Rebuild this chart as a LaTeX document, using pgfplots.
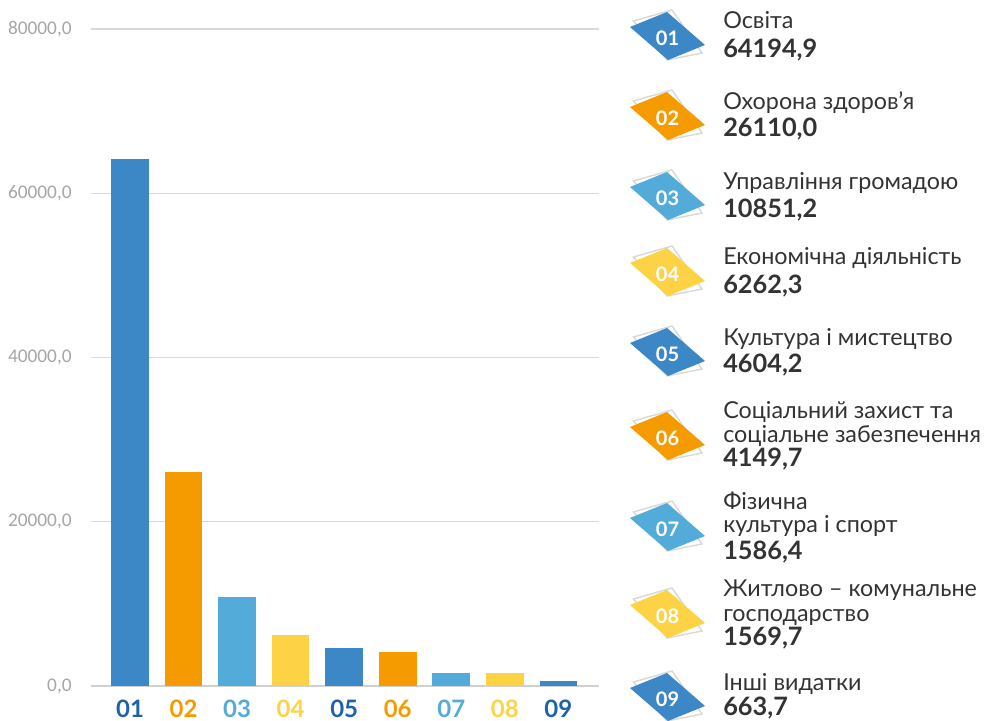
\documentclass[border=0pt]{standalone}
\usepackage{pgfplots}
\pgfplotsset{compat=1.18}
\usepackage{fontspec}
\setmainfont{Lato}
\newfontfamily\tickfont{Carlito}
\definecolor{cblue}{HTML}{3C87C6}
\definecolor{corange}{HTML}{F59B00}
\definecolor{clight}{HTML}{52ABD9}
\definecolor{cyellow}{HTML}{FDD245}
\definecolor{dblue}{HTML}{1F62AA}
\definecolor{tgray}{HTML}{A6A6A6}
\definecolor{ggray}{HTML}{D9D9D9}
\definecolor{bgray}{HTML}{D0D0D0}
\definecolor{txt}{HTML}{333333}
\newcommand\icon[3]{%
  \begin{scope}[shift={(667.5,721-#1)}]
    \draw[ggray, line width=1.1pt] (-34,15) -- (4.5,26) -- (34.5,-17) -- (-0.5,-24) -- cycle;
    \fill[#2] (-37.5,9) -- (-0.5,24) -- (37.5,-9) -- (0.5,-24) -- cycle;
    \node[white, font=\bfseries\fontsize{15}{15}\selectfont] at (0,-2) {#3};
  \end{scope}}
\newcommand\nm[2]{\node[anchor=base west, inner sep=0pt, text=txt, font=\fontsize{17.5}{17.5}\selectfont] at (723,721-#1) {#2};}
\newcommand\vl[2]{\node[anchor=base west, inner sep=0pt, text=txt, font=\bfseries\fontsize{19}{19}\selectfont] at (723,721-#1) {#2};}
\begin{document}
\begin{tikzpicture}[x=0.75pt,y=0.75pt]
\useasboundingbox (0,0) rectangle (986,721);
\begin{axis}[
  at={(68.25pt,26.25pt)}, anchor=south west,
  scale only axis, width=381pt, height=492.75pt,
  xmin=-0.73, xmax=8.76, ymin=0, ymax=80000,
  scaled y ticks=false,
  axis line style={draw=none}, tick style={draw=none},
  xtick={0,...,8},
  xticklabels={\textcolor{dblue}{01},\textcolor{corange}{02},\textcolor{clight}{03},\textcolor{cyellow}{04},\textcolor{dblue}{05},\textcolor{corange}{06},\textcolor{clight}{07},\textcolor{cyellow}{08},\textcolor{dblue}{09}},
  xticklabel style={font=\bfseries\fontsize{18}{18}\selectfont, yshift=-7pt},
  ytick={0,20000,40000,60000,80000},
  yticklabels={{0,0},{20000,0},{40000,0},{60000,0},{80000,0}},
  extra y ticks={0}, extra y tick labels={},
  extra y tick style={grid style={bgray, line width=2pt}},
  yticklabel style={font=\tickfont\fontsize{14.5}{14.5}\selectfont, text=tgray, xshift=-11pt},
  ymajorgrids, grid style={ggray, line width=1.1pt},
  clip=false,
]
\addplot[ybar, bar width=28.2pt, bar shift=0pt, fill=cblue, draw=none] coordinates {(0,64194.9)};
\addplot[ybar, bar width=28.2pt, bar shift=0pt, fill=corange, draw=none] coordinates {(1,26110.0)};
\addplot[ybar, bar width=28.2pt, bar shift=0pt, fill=clight, draw=none] coordinates {(2,10851.2)};
\addplot[ybar, bar width=28.2pt, bar shift=0pt, fill=cyellow, draw=none] coordinates {(3,6262.3)};
\addplot[ybar, bar width=28.2pt, bar shift=0pt, fill=cblue, draw=none] coordinates {(4,4604.2)};
\addplot[ybar, bar width=28.2pt, bar shift=0pt, fill=corange, draw=none] coordinates {(5,4149.7)};
\addplot[ybar, bar width=28.2pt, bar shift=0pt, fill=clight, draw=none] coordinates {(6,1586.4)};
\addplot[ybar, bar width=28.2pt, bar shift=0pt, fill=cyellow, draw=none] coordinates {(7,1569.7)};
\addplot[ybar, bar width=28.2pt, bar shift=0pt, fill=cblue, draw=none] coordinates {(8,663.7)};
\end{axis}
\icon{36}{cblue}{01}
\icon{116}{corange}{02}
\icon{196}{clight}{03}
\icon{272}{cyellow}{04}
\icon{352}{cblue}{05}
\icon{436}{corange}{06}
\icon{527}{clight}{07}
\icon{614}{cyellow}{08}
\icon{697}{cblue}{09}
\nm{29}{Освіта}\vl{58}{64194,9}
\nm{110}{Охорона здоров’я}\vl{137}{26110,0}
\nm{190}{Управління громадою}\vl{218}{10851,2}
\nm{265}{Економічна діяльність}\vl{294}{6262,3}
\nm{346}{Культура і мистецтво}\vl{373}{4604,2}
\nm{419}{Соціальний захист та}\nm{443}{соціальне забезпечення}\vl{467}{4149,7}
\nm{510}{Фізична}\nm{533}{культура і спорт}\vl{560}{1586,4}
\nm{597}{Житлово – комунальне}\nm{622}{господарство}\vl{646}{1569,7}
\nm{691}{Інші видатки}\vl{716}{663,7}
\end{tikzpicture}
\end{document}
